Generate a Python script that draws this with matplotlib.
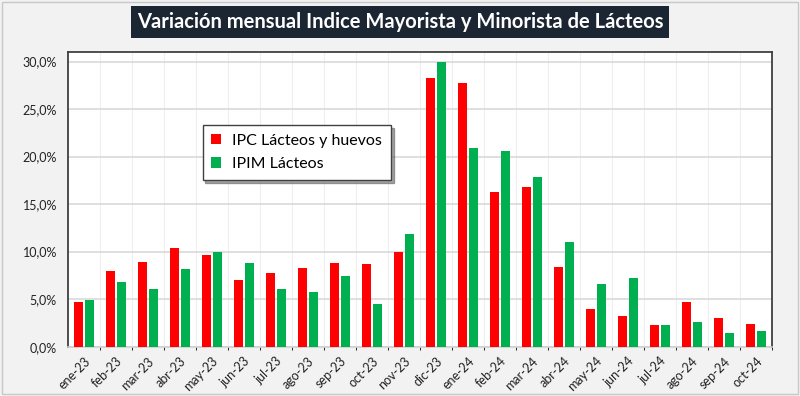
import matplotlib.pyplot as plt
import numpy as np
from matplotlib.ticker import FuncFormatter, MultipleLocator
from matplotlib.patches import Rectangle

months = ["ene-23", "feb-23", "mar-23", "abr-23", "may-23", "jun-23", "jul-23",
          "ago-23", "sep-23", "oct-23", "nov-23", "dic-23", "ene-24", "feb-24",
          "mar-24", "abr-24", "may-24", "jun-24", "jul-24", "ago-24", "sep-24",
          "oct-24"]
ipc_lacteos = [4.7, 8.0, 8.9, 10.4, 9.6, 7.0, 7.8, 8.3, 8.8, 8.7, 10.0, 28.3,
               27.7, 16.3, 16.8, 8.4, 4.0, 3.2, 2.3, 4.7, 3.0, 2.4]
ipim_lacteos = [4.9, 6.8, 6.1, 8.2, 10.0, 8.8, 6.1, 5.8, 7.4, 4.5, 11.9, 29.9,
                20.9, 20.6, 17.8, 11.0, 6.6, 7.2, 2.3, 2.6, 1.4, 1.7]

title = "Variación mensual Indice Mayorista y Minorista de Lácteos"

plt.rcParams["font.family"] = ["Lato", "DejaVu Sans"]

fig = plt.figure(figsize=(8, 3.96), dpi=100, facecolor="#f2f2f2")
fig.patches.append(Rectangle((0.003, 0.004), 0.994, 0.992, transform=fig.transFigure,
                             fill=False, edgecolor="#c8c8c8", linewidth=1))
ax = fig.add_axes([0.085, 0.1245, 0.88, 0.7442])
ax.set_facecolor("white")

x = np.arange(len(months))
w = 0.27
ax.bar(x - 0.175, ipc_lacteos, w, color="#ff0000", label="IPC Lácteos y huevos", zorder=3)
ax.bar(x + 0.175, ipim_lacteos, w, color="#00b050", label="IPIM Lácteos", zorder=3)

ax.set_xlim(-0.5, len(months) - 0.5)
ax.set_ylim(0, 31)
ax.yaxis.set_major_locator(MultipleLocator(5))
ax.yaxis.set_major_formatter(FuncFormatter(lambda v, p: f"{v:.1f}%".replace(".", ",")))
ax.grid(axis="y", color="#d9d9d9", linewidth=1.2, zorder=0)
ax.set_xticks(x + 0.5, minor=True)
ax.grid(axis="x", which="minor", color="#eeeeee", linewidth=0.8, zorder=0)
ax.set_xticks(x)
ax.set_xticklabels(months, rotation=45, ha="right", rotation_mode="anchor", fontsize=9)
ax.tick_params(axis="both", length=0, labelsize=9, colors="#222222")
ax.tick_params(axis="x", pad=6)
ax.tick_params(axis="y", pad=8)

for s in ["left", "top", "right"]:
    ax.spines[s].set_color("#404040")
    ax.spines[s].set_linewidth(1.3)
ax.spines["bottom"].set_color("#cfcfcf")
ax.spines["bottom"].set_linewidth(1.2)

leg = ax.legend(loc="upper left", bbox_to_anchor=(0.18, 0.78), fontsize=11.5,
                frameon=True, fancybox=False, shadow=True, handlelength=0.6,
                handleheight=0.6, borderpad=0.55, labelspacing=0.6, handletextpad=0.7)
leg.get_frame().set_edgecolor("#404040")
leg.get_frame().set_linewidth(1.0)

fig.text(0.5, 0.944, title, ha="center", va="center", color="white", fontsize=14.5,
         fontweight="bold",
         bbox=dict(boxstyle="square,pad=0.3", facecolor="#1c2632", edgecolor="none"))

fig.savefig("out.png", dpi=100, facecolor=fig.get_facecolor())
